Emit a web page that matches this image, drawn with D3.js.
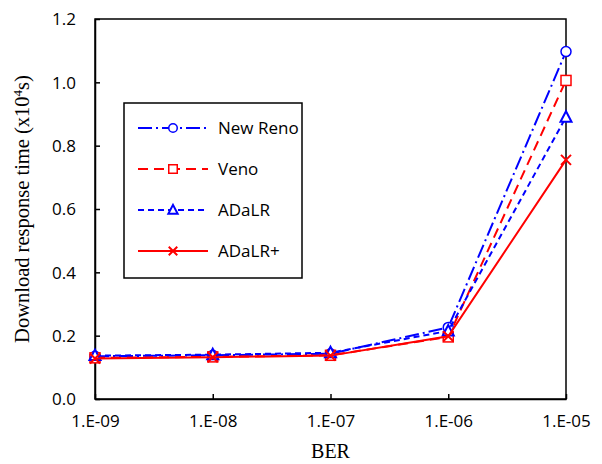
<!DOCTYPE html>
<html>
<head>
<meta charset="utf-8">
<script src="https://cdn.jsdelivr.net/npm/d3@7"></script>
<style>
  body { margin: 0; background: #fff; }
  svg text { fill: #000; }
</style>
</head>
<body>
<div id="chart"></div>
<script>
// Data
const berLabels = ['1.E-09', '1.E-08', '1.E-07', '1.E-06', '1.E-05'];
const newReno = [0.135, 0.138, 0.143, 0.226, 1.097];
const veno = [0.130, 0.133, 0.138, 0.196, 1.006];
const adalr = [0.137, 0.140, 0.146, 0.215, 0.890];
const adalrPlus = [0.128, 0.132, 0.137, 0.198, 0.755];
const yTicks = [0, 0.2, 0.4, 0.6, 0.8, 1.0, 1.2];

const series = [
  { name: 'New Reno', values: newReno, color: '#0000ff', dash: '14,4,2,4', marker: 'circle' },
  { name: 'Veno', values: veno, color: '#ff0000', dash: '10,6', marker: 'square' },
  { name: 'ADaLR', values: adalr, color: '#0000ff', dash: '6,4', marker: 'triangle' },
  { name: 'ADaLR+', values: adalrPlus, color: '#ff0000', dash: null, marker: 'x' }
];

const W = 602, H = 464;
const margin = { top: 19, right: 36, bottom: 65, left: 95 };
const width = W - margin.left - margin.right;
const height = H - margin.top - margin.bottom;

const svg = d3.select('#chart')
  .append('svg')
  .attr('width', W)
  .attr('height', H);

const g = svg.append('g')
  .attr('transform', 'translate(' + margin.left + ',' + margin.top + ')');

// Scales
const xScale = d3.scalePoint()
  .domain(berLabels)
  .range([0, width]);

const yScale = d3.scaleLinear()
  .domain([0, 1.2])
  .range([height, 0]);

// Frame
g.append('rect')
  .attr('width', width)
  .attr('height', height)
  .attr('fill', 'none')
  .attr('stroke', '#000')
  .attr('stroke-width', 1.5);

// Axes
const xAxis = d3.axisBottom(xScale).tickSizeInner(-5).tickSizeOuter(0).tickPadding(16);
const yAxis = d3.axisLeft(yScale).tickValues(yTicks).tickFormat(d3.format('.1f'))
  .tickSizeInner(-5).tickSizeOuter(0).tickPadding(19);

const gx = g.append('g')
  .attr('transform', 'translate(0,' + height + ')')
  .call(xAxis);
const gy = g.append('g').call(yAxis);

[gx, gy].forEach(function (ax) {
  ax.select('.domain').attr('stroke', '#000').attr('stroke-width', 1.5);
  ax.selectAll('.tick line').attr('stroke', '#000').attr('stroke-width', 1.5);
  ax.selectAll('.tick text')
    .style('font-family', '"Open Sans", Lato, sans-serif')
    .style('font-size', '17px');
});
gy.selectAll('.tick text').attr('dy', '0.35em');

// Axis titles
g.append('text')
  .attr('x', width / 2)
  .attr('y', height + 59)
  .attr('text-anchor', 'middle')
  .style('font-family', '"Liberation Serif", "Times New Roman", serif')
  .style('font-size', '20px')
  .text('BER');

const yTitle = svg.append('text')
  .attr('transform', 'translate(29,' + (margin.top + height / 2) + ') rotate(-90)')
  .attr('text-anchor', 'middle')
  .style('font-family', '"Liberation Serif", "Times New Roman", serif')
  .style('font-size', '20.5px');
yTitle.append('tspan').text('Download response time (x10');
yTitle.append('tspan').attr('dy', -7).style('font-size', '13px').text('4');
yTitle.append('tspan').attr('dy', 7).text('s)');

// Marker drawing
function drawMarker(sel, type, color, size) {
  const k = size || 1;
  if (type === 'circle') {
    sel.append('circle').attr('r', 5 * k)
      .attr('fill', '#fff').attr('stroke', color).attr('stroke-width', 1.5);
  } else if (type === 'square') {
    sel.append('rect').attr('x', -5 * k).attr('y', -5 * k).attr('width', 10 * k).attr('height', 10 * k)
      .attr('fill', '#fff').attr('stroke', color).attr('stroke-width', 1.5);
  } else if (type === 'triangle') {
    sel.append('path').attr('d', 'M0,' + (-6 * k) + 'L' + (5.5 * k) + ',' + (4.5 * k) + 'L' + (-5.5 * k) + ',' + (4.5 * k) + 'Z')
      .attr('fill', '#fff').attr('stroke', color).attr('stroke-width', 2);
  } else {
    const r = 5 * k;
    sel.append('path').attr('d', 'M' + -r + ',' + -r + 'L' + r + ',' + r + 'M' + -r + ',' + r + 'L' + r + ',' + -r)
      .attr('fill', 'none').attr('stroke', color).attr('stroke-width', 2);
  }
}

const line = d3.line()
  .x(function (d, i) { return xScale(berLabels[i]); })
  .y(function (d) { return yScale(d); });

// Draw series (last drawn on top)
series.forEach(function (s) {
  g.append('path')
    .datum(s.values)
    .attr('d', line)
    .attr('fill', 'none')
    .attr('stroke', s.color)
    .attr('stroke-width', 2)
    .attr('stroke-dasharray', s.dash);

  g.selectAll(null)
    .data(s.values)
    .enter()
    .append('g')
    .attr('transform', function (d, i) {
      return 'translate(' + xScale(berLabels[i]) + ',' + yScale(d) + ')';
    })
    .each(function () { drawMarker(d3.select(this), s.marker, s.color); });
});

// Legend
const legend = svg.append('g')
  .attr('transform', 'translate(124,103)');

legend.append('rect')
  .attr('width', 178)
  .attr('height', 175)
  .attr('fill', '#fff')
  .attr('stroke', '#000')
  .attr('stroke-width', 1.5);

series.forEach(function (s, i) {
  const row = legend.append('g')
    .attr('transform', 'translate(0,' + (25 + i * 41) + ')');
  row.append('line')
    .attr('x1', 14).attr('x2', 84)
    .attr('stroke', s.color)
    .attr('stroke-width', 2)
    .attr('stroke-dasharray', s.dash);
  const m = row.append('g').attr('transform', 'translate(49,0)');
  drawMarker(m, s.marker, s.color, 0.85);
  row.append('text')
    .attr('x', 94)
    .attr('dy', '0.35em')
    .style('font-family', '"Open Sans", Lato, sans-serif')
    .style('font-size', '17px')
    .text(s.name);
});
</script>
</body>
</html>
